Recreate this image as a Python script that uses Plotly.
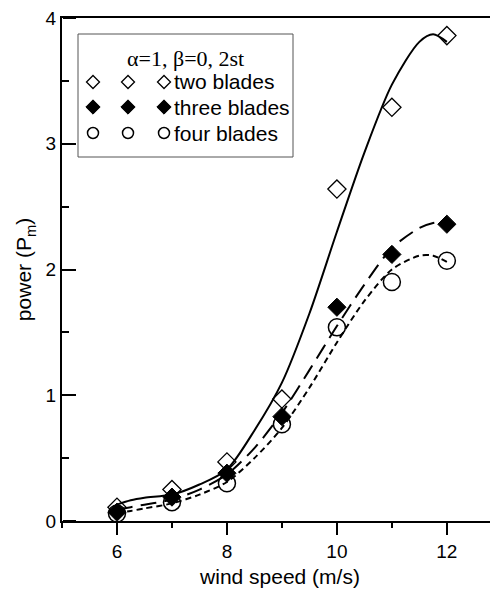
import plotly.graph_objects as go

# measured data points
wind_speed = [6, 7, 8, 9, 10, 11, 12]
two_blades = [0.11, 0.25, 0.47, 0.97, 2.64, 3.29, 3.86]
three_blades = [0.07, 0.19, 0.38, 0.83, 1.70, 2.12, 2.36]
four_blades = [0.06, 0.15, 0.30, 0.77, 1.54, 1.90, 2.07]

# fitted curves
fit_x = [6, 6.25, 6.5, 7, 7.5, 8, 8.5, 9, 9.5, 10, 10.5, 11, 11.5, 11.75, 12]
fit_two = [0.13, 0.165, 0.185, 0.21, 0.29, 0.41, 0.72, 1.10, 1.65, 2.30, 2.93, 3.47, 3.81, 3.87, 3.81]
fit_three = [0.09, 0.11, 0.13, 0.17, 0.25, 0.37, 0.58, 0.86, 1.20, 1.55, 1.88, 2.17, 2.33, 2.37, 2.38]
fit_four = [0.06, 0.08, 0.10, 0.14, 0.21, 0.31, 0.50, 0.74, 1.06, 1.42, 1.75, 2.00, 2.11, 2.11, 2.06]

y_ticks = [0, 1, 2, 3, 4]
y_minor = [0.5, 1.5, 2.5, 3.5]
x_ticks = [6, 8, 10, 12]
x_minor = [5, 7, 9, 11, 13]
series_names = ["two blades", "three blades", "four blades"]
legend_title = "α=1, β=0, 2st"
x_title = "wind speed (m/s)"
y_title = "power (P<sub>m</sub>)"

# the page body has an 8px margin, so the figure is offset by 8px
OFF = 8
W, H = 498 - OFF, 590 - OFF
L, R, T, B = 62 - OFF, 0, 18 - OFF, 69
X_RANGE = [5, 12.93]
Y_RANGE = [0, 4]
SANS = "Liberation Sans, Arial, sans-serif"
SERIF = "Liberation Serif, Times New Roman, serif"

PW, PH = W - L - R, H - T - B


# helpers to place legend items given page pixel positions
def px_to_x(px):
    return X_RANGE[0] + (px - OFF - L) / PW * (X_RANGE[1] - X_RANGE[0])


def py_to_y(py):
    return Y_RANGE[0] + (H - B - (py - OFF)) / PH * (Y_RANGE[1] - Y_RANGE[0])


def px_to_paper(px):
    return (px - OFF - L) / PW


def py_to_paper(py):
    return (H - B - (py - OFF)) / PH


styles = [
    dict(symbol="diamond-open", size=14, color="black", line=dict(width=1.3, color="black")),
    dict(symbol="diamond", size=14, color="black", line=dict(width=1, color="black")),
    dict(symbol="circle-open", size=17, color="black", line=dict(width=1.5, color="black")),
]
legend_sizes = [10, 11, 11]
line_styles = [
    dict(color="black", width=2, dash="solid", shape="spline", smoothing=0.8),
    dict(color="black", width=2, dash="16px,8px", shape="spline", smoothing=0.8),
    dict(color="black", width=2, dash="6px,4px", shape="spline", smoothing=0.8),
]

fig = go.Figure()
for fy, ls in zip([fit_two, fit_three, fit_four], line_styles):
    fig.add_trace(go.Scatter(x=fit_x, y=fy, mode="lines", line=ls, showlegend=False, hoverinfo="skip",
                             cliponaxis=False))
for ys, st in zip([two_blades, three_blades, four_blades], styles):
    fig.add_trace(go.Scatter(x=wind_speed, y=ys, mode="markers", marker=st, showlegend=False,
                             cliponaxis=False))

# manual legend (three sample symbols per row, as in the original)
leg_box = (78, 34, 293, 157)
leg_rows = [82, 107, 133]
leg_mx = [93, 128, 164]
leg_tx = 172
for row, st, ms, name in zip(leg_rows, styles, legend_sizes, series_names):
    mk = dict(st, size=ms)
    fig.add_trace(go.Scatter(x=[px_to_x(p) for p in leg_mx], y=[py_to_y(row)] * len(leg_mx),
                             mode="markers", marker=mk, showlegend=False, hoverinfo="skip", yaxis="y2"))
    fig.add_annotation(x=px_to_paper(leg_tx), y=py_to_paper(row), xref="paper", yref="paper", text=name,
                       showarrow=False, xanchor="left", yanchor="middle",
                       font=dict(family=SANS, size=21, color="black"))
fig.add_annotation(x=px_to_paper(185), y=py_to_paper(58), xref="paper", yref="paper", text=legend_title,
                   showarrow=False, xanchor="center", yanchor="middle",
                   font=dict(family=SERIF, size=22, color="black"))
fig.add_shape(type="rect", xref="paper", yref="paper",
              x0=px_to_paper(leg_box[0]), y0=py_to_paper(leg_box[3]),
              x1=px_to_paper(leg_box[2]), y1=py_to_paper(leg_box[1]),
              line=dict(color="#555555", width=1), fillcolor="rgba(0,0,0,0)", layer="below")

axis_common = dict(showgrid=False, zeroline=False, showline=True, linecolor="black", linewidth=2,
                   tickcolor="black", tickwidth=2, automargin=False, ticklabeloverflow="allow",
                   tickfont=dict(family=SANS, size=19, color="black"))

fig.update_layout(
    width=W, height=H,
    margin=dict(l=L, r=R, t=T, b=B, pad=0),
    paper_bgcolor="white", plot_bgcolor="white",
    showlegend=False,
    xaxis=dict(range=X_RANGE, tickvals=x_ticks, ticks="outside", ticklen=12, mirror=True,
               minor=dict(tickvals=x_minor, ticks="outside", ticklen=5, tickwidth=2, tickcolor="black"),
               title=dict(text=x_title, font=dict(family=SANS, size=21, color="black"), standoff=9),
               **axis_common),
    yaxis=dict(range=Y_RANGE, tickvals=y_ticks, ticks="inside", ticklen=13,
               minor=dict(tickvals=y_minor, ticks="inside", ticklen=6, tickwidth=2, tickcolor="black"),
               title=dict(text=y_title, font=dict(family=SANS, size=21, color="black"), standoff=8),
               **axis_common),
    # companion axis at the left edge whose outward (rightward) ticks render the inside tick marks
    yaxis2=dict(range=Y_RANGE, overlaying="y", side="right", anchor="free", position=0,
                tickvals=y_ticks, ticks="outside", ticklen=13, tickwidth=2, tickcolor="black",
                minor=dict(tickvals=y_minor, ticks="outside", ticklen=6, tickwidth=2, tickcolor="black"),
                showticklabels=False, showline=False, showgrid=False, zeroline=False, automargin=False),
)

fig.write_html("out.html", config={"displayModeBar": False})
